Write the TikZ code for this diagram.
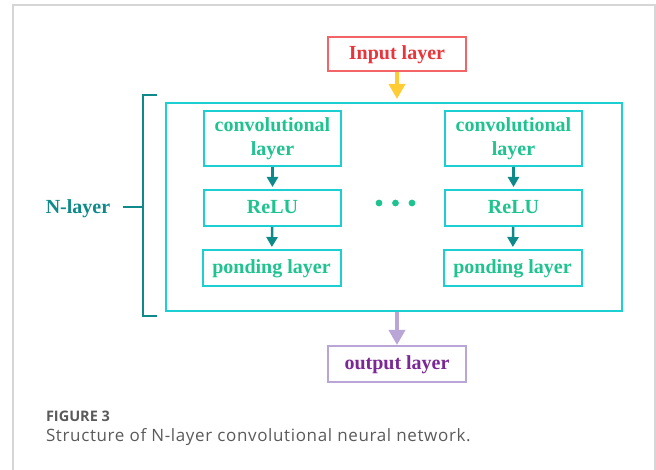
\documentclass[tikz,border=0pt]{standalone}
\usepackage{fontspec}
\setmainfont{Liberation Serif}
\newfontfamily\capfont{Open Sans}
\usepackage{tikz}
\usetikzlibrary{arrows.meta,positioning}
\usepackage{xcolor}

\definecolor{framegray}{HTML}{D6D6D6}
\definecolor{inred}{HTML}{E8353B}
\definecolor{inredbox}{HTML}{F26466}
\definecolor{arryellow}{HTML}{FFCC33}
\definecolor{stackcyan}{HTML}{1CCFD2}
\definecolor{layergreen}{HTML}{1EC38F}
\definecolor{deepteal}{HTML}{0E8A8A}
\definecolor{outpurple}{HTML}{7A2895}
\definecolor{outlilac}{HTML}{B9A5D6}
\definecolor{capgray}{HTML}{5A5A5A}

\begin{document}
\begin{tikzpicture}[x=1pt,y=-1pt,line width=2pt,node distance=69.5pt,
  layerbox/.style={draw=stackcyan,text=layergreen,inner sep=0pt,minimum width=137pt,
    minimum height=36pt,align=center,font=\fontsize{20}{24}\selectfont\bfseries},
  oneline/.style={text height=16.5pt,text depth=4.5pt},
  flow/.style={->,>={Triangle[length=10pt,width=11pt]},deepteal,line width=2.5pt,shorten >=2pt},
  bigflow/.style={->,>={Triangle[length=15pt,width=16pt]},line width=3.5pt}]
  \useasboundingbox (0,0) rectangle (656,470);
  % page frame
  \draw[framegray,line width=1.5pt] (13,470) -- (13,5) -- (655,5) -- (655,470);

  \node[draw=inredbox,text=inred,inner sep=0pt,minimum width=138pt,minimum height=34pt,oneline,
        font=\fontsize{20}{24}\selectfont\bfseries] (input) at (397,54) {Input layer};
  \node[draw=stackcyan,minimum width=456pt,minimum height=208pt,inner sep=0pt] (stack) at (394,207) {};

  \node[layerbox,minimum height=55pt] (conv1) at (272.5,138.5) {convolutional\\layer};
  \node[layerbox,oneline]             (relu1) [below of=conv1] {ReLU};
  \node[layerbox,oneline,minimum width=138pt] (pond1) [below of=relu1,node distance=60pt,xshift=-1pt] {ponding layer};

  \node[layerbox,minimum height=55pt] (conv2) at (513.5,138.5) {convolutional\\layer};
  \node[layerbox,oneline]             (relu2) [below of=conv2] {ReLU};
  \node[layerbox,oneline,minimum width=138pt] (pond2) [below of=relu2,node distance=60pt,xshift=-1pt] {ponding layer};

  % the three dots between the columns
  \fill[layergreen] (379,203) circle (3.4pt) (395.5,203) circle (3.4pt) (412,203) circle (3.4pt);

  \node[draw=outlilac,text=outpurple,inner sep=0pt,minimum width=138pt,minimum height=36pt,oneline,
        font=\fontsize{20}{24}\selectfont\bfseries] (output) at (397,364) {output layer};

  % bracket for the repeated block
  \coordinate (btop) at (157,95);
  \coordinate (bbot) at (157,316);
  \coordinate (bmid) at (143,207);
  \coordinate (ntick) at (123,207);
  \node[text=deepteal,oneline,font=\fontsize{20}{24}\selectfont\bfseries] (nlayer) at (78,208) {N-layer};
  \draw[deepteal] (btop) -- (143,95) -- (143,316) -- (bbot);
  \draw[deepteal] (ntick) -- (bmid);

  \path[flow] (conv1) edge (relu1)
              (relu1) edge (pond1)
              (conv2) edge (relu2)
              (relu2) edge (pond2);
  \path[bigflow,arryellow]
        (input) edge[shorten >=3pt] (input |- stack.north);
  \path[bigflow,outlilac]
        (output |- stack.south) edge (output);

  \node[anchor=base west,text=capgray,font=\capfont\fontsize{14.5}{18}\selectfont\bfseries,inner sep=0pt] (fig) at (45,421) {FIGURE 3};
  \node[anchor=base west,text=capgray,font=\capfont\fontsize{17}{20}\selectfont\addfontfeature{LetterSpace=3.8},inner sep=0pt] (cap) at (45,441) {Structure of N-layer convolutional neural network.};
\end{tikzpicture}
\end{document}
